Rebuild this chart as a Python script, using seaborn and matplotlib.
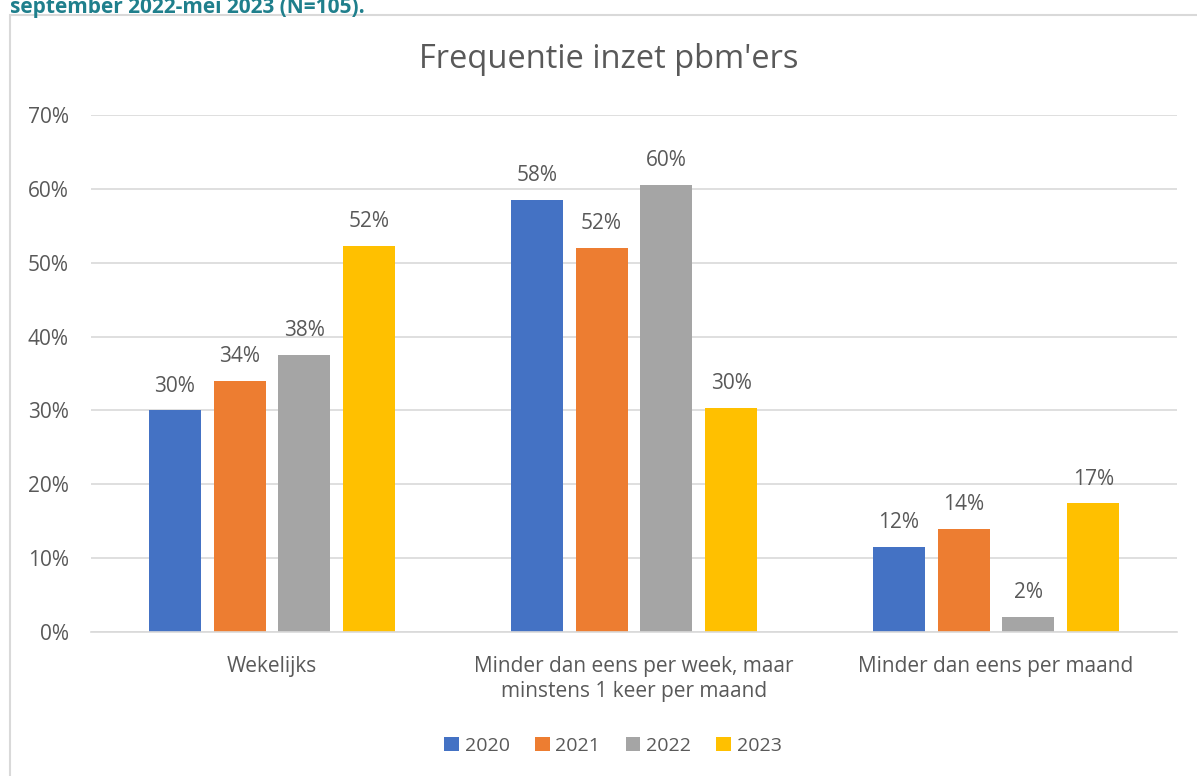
import matplotlib
matplotlib.use("Agg")
import matplotlib.pyplot as plt
import seaborn as sns
import pandas as pd
from matplotlib.patches import Rectangle

categories = ["Wekelijks",
              "Minder dan eens per week, maar\nminstens 1 keer per maand",
              "Minder dan eens per maand"]
years = ["2020", "2021", "2022", "2023"]
values = {
    "2020": [30.0, 58.5, 11.5],
    "2021": [34.0, 52.0, 14.0],
    "2022": [37.5, 60.5, 2.0],
    "2023": [52.3, 30.3, 17.4],
}
labels = {
    "2020": ["30%", "58%", "12%"],
    "2021": ["34%", "52%", "14%"],
    "2022": ["38%", "60%", "2%"],
    "2023": ["52%", "30%", "17%"],
}
yticks = [0, 10, 20, 30, 40, 50, 60, 70]
title = "Frequentie inzet pbm'ers"
caption = "september 2022-mei 2023 (N=105)."
colors = ["#4472C4", "#ED7D31", "#A5A5A5", "#FFC000"]

rows = []
for y in years:
    for c, v in zip(categories, values[y]):
        rows.append({"cat": c, "year": y, "val": v})
df = pd.DataFrame(rows)

sns.set_style("white")
plt.rcParams["font.family"] = ["Open Sans", "DejaVu Sans"]
txt = "#595959"

W, H = 1197, 776
fig = plt.figure(figsize=(W / 100, H / 100), dpi=100)

# chart border
fig.patches.append(Rectangle((10 / W, -0.1), 1.2, (H - 15) / H + 0.1,
                             transform=fig.transFigure, fill=False,
                             edgecolor="#D9D9D9", linewidth=1.5))
fig.text(10 / W, 1 - 7 / H, caption, color="#1F7F8C", fontsize=15,
         fontweight="bold", va="center", ha="left")

left, right = 91 / W, 1177 / W
bottom, top = 1 - 632 / H, 1 - 115 / H
ax = fig.add_axes([left, bottom, right - left, top - bottom])

sns.barplot(data=df, x="cat", y="val", hue="year", hue_order=years,
            order=categories, palette=colors, width=0.716, gap=0.2,
            ax=ax, saturation=1, legend=True, edgecolor="none")

for cont, y in zip(ax.containers, years):
    ax.bar_label(cont, labels=labels[y], padding=10, fontsize=15, color=txt)

ax.set_ylim(0, 70)
ax.set_xlim(-0.5, 2.5)
ax.set_yticks(yticks)
ax.set_yticklabels([f"{t}%" for t in yticks], fontsize=15, color=txt)
ax.tick_params(axis="x", labelsize=15, labelcolor=txt, length=0, pad=17)
ax.tick_params(axis="y", length=0, pad=16)
for lab in ax.get_xticklabels():
    lab.set_linespacing(1.25)
ax.set_xlabel("")
ax.set_ylabel("")
ax.grid(axis="y", color="#D9D9D9", linewidth=1.2)
ax.set_axisbelow(True)
for s in ["top", "right", "left"]:
    ax.spines[s].set_visible(False)
ax.spines["bottom"].set_color("#D9D9D9")
ax.spines["bottom"].set_linewidth(1.2)

fig.text(609 / W, 1 - 60 / H, title, fontsize=23.5, color=txt,
         ha="center", va="center")

handles, lbls = ax.get_legend_handles_labels()
ax.legend_.remove()
fig.legend(handles, lbls, loc="center", bbox_to_anchor=(613 / W, 1 - 746 / H),
           ncol=4, frameon=False, fontsize=14, labelcolor=txt,
           handlelength=0.75, handleheight=0.75, handletextpad=0.3,
           columnspacing=1.3)

fig.savefig("out.png", dpi=100)
